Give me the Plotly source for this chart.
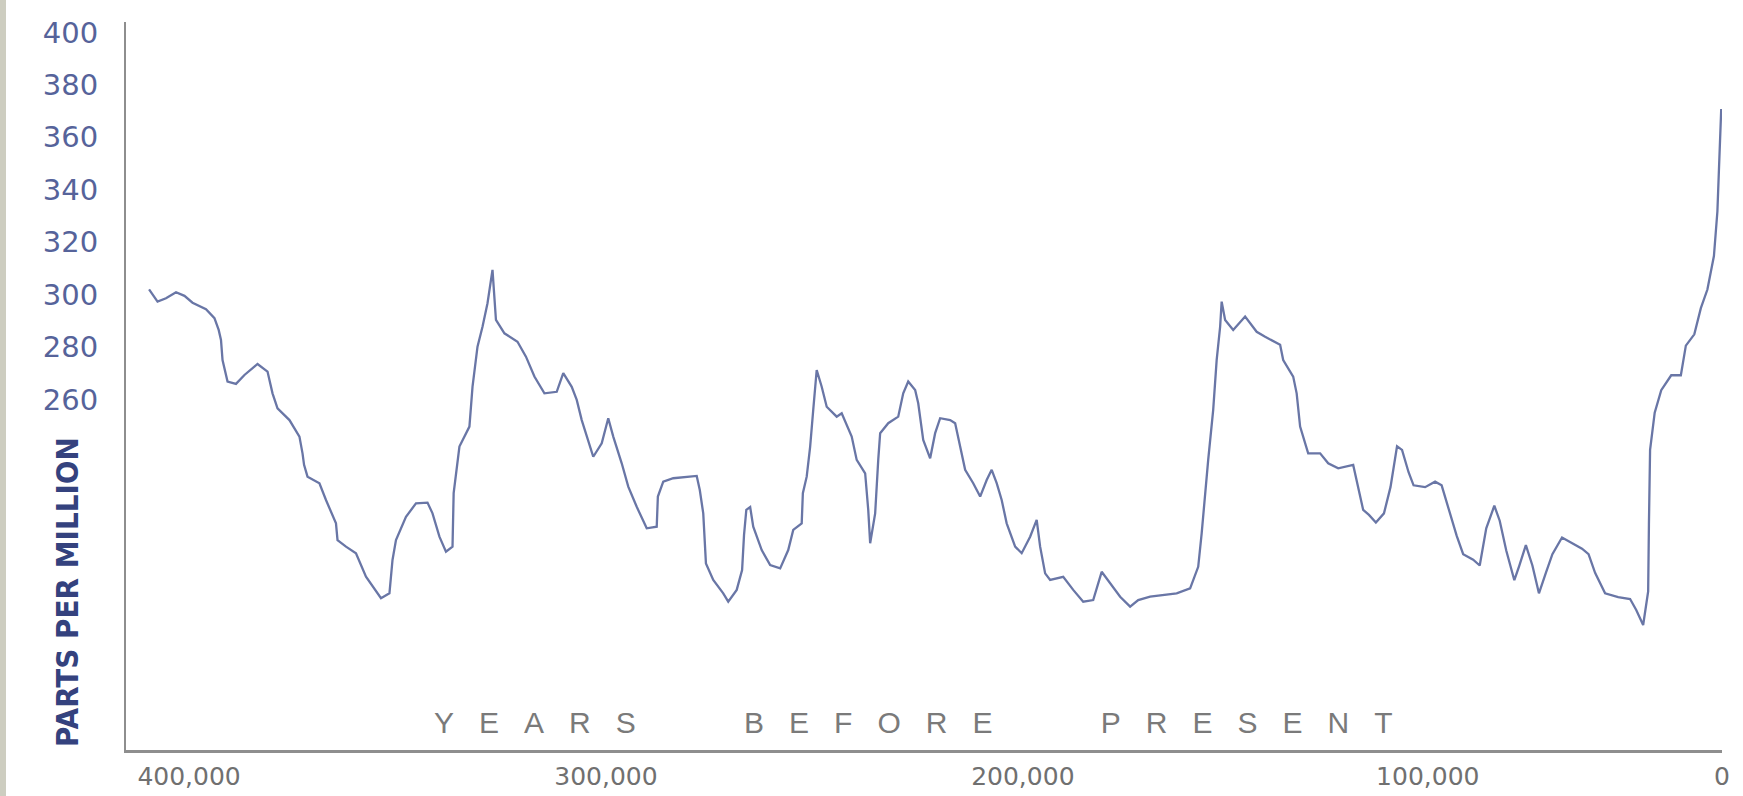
import plotly.graph_objects as go

# Atmospheric CO2 over the last ~400,000 years (years before present, ppm)
YEARS_BP = [
    409000, 406800, 404600, 402000, 399800, 397700, 394200, 392000, 390900, 390300,
    389900, 388600, 386400, 384200, 380800, 378200, 376900, 375600, 372500, 369900,
    369100, 368700, 367800, 364700, 363000, 360400, 360000, 357800, 355200, 352600,
    348700, 346500, 345700, 344800, 342200, 339600, 336600, 335300, 333500, 331800,
    330100, 329800, 328300, 325700, 324900, 323600, 322300, 321000, 319700, 319200,
    318800, 316600, 313200, 311000, 308800, 306200, 303000, 301300, 299100, 297800,
    296500, 293500, 291300, 289600, 288300, 286100, 284400, 282200, 279600, 277000,
    276700, 275300, 272700, 266600, 265800, 264900, 264500, 264200, 262300, 259700,
    258400, 256200, 254800, 254300, 253700, 252700, 251900, 249700, 247500, 244900,
    242800, 241500, 239300, 239000, 238000, 237100, 236300, 235400, 234100, 232800,
    230200, 228900, 226300, 225000, 222800, 222000, 221500, 220200, 219400, 218900,
    216800, 214200, 212900, 211600, 209800, 209000, 207700, 205900, 204600, 203300,
    200700, 199400, 198100, 196800, 194700, 192900, 191200, 189900, 188600, 187300,
    186000, 183800, 182100, 179900, 178200, 177300, 176000, 174700, 171300, 168700,
    166100, 163500, 161300, 159100, 156500, 153900, 151800, 148700, 145300, 141800,
    138300, 136200, 135300, 134400, 133600, 132300, 131400, 130500, 130100, 129200,
    127100, 124000, 121000, 118800, 114900, 114100, 111500, 110600, 109700, 107600,
    104500, 102400, 99800, 95900, 94600, 93300, 91800, 90000, 87900, 86200,
    84500, 83200, 81500, 80200, 77200, 74600, 72900, 70800, 69000, 67300,
    64700, 63000, 61300, 59200, 57800, 56100, 54000, 52700, 51000, 49300,
    47600, 45800, 44100, 41600, 39800, 36400, 34700, 33000, 30400, 27000,
    23900, 22300, 20500, 19200, 19000, 18700, 17500, 15800, 13200, 10700,
    9400, 7200, 5500, 3800, 2100, 1200, 800, 500, 200,
]
CO2_PPM = [
    302.0, 297.3, 298.6, 300.9, 299.5, 296.9, 294.4, 291.0, 286.5, 282.7,
    275.0, 266.8, 265.9, 269.3, 273.5, 270.6, 262.3, 256.6, 252.1, 245.8,
    239.4, 235.0, 230.5, 228.0, 221.6, 212.7, 206.3, 203.8, 201.3, 192.3,
    184.1, 186.0, 198.7, 206.3, 215.2, 220.3, 220.6, 216.5, 207.6, 201.9,
    203.8, 224.2, 242.0, 249.6, 264.8, 280.1, 287.7, 296.7, 309.4, 300.5,
    290.3, 285.2, 282.0, 276.3, 268.7, 262.3, 262.9, 270.0, 264.8, 259.8,
    252.1, 238.1, 243.2, 252.8, 245.8, 235.6, 226.7, 219.0, 210.8, 211.4,
    222.9, 228.6, 229.9, 230.8, 225.4, 216.5, 206.3, 197.4, 191.1, 186.0,
    182.8, 187.3, 194.9, 208.2, 217.8, 218.9, 211.4, 202.5, 196.8, 195.5,
    202.5, 210.2, 212.7, 224.2, 230.5, 242.0, 256.0, 271.2, 264.8, 257.2,
    253.4, 254.7, 245.8, 236.9, 231.8, 217.8, 205.1, 216.5, 236.9, 247.1,
    250.9, 253.4, 262.3, 266.8, 263.6, 258.5, 244.5, 237.5, 247.1, 252.8,
    252.1, 250.9, 242.0, 233.1, 228.0, 222.9, 229.2, 233.1, 228.0, 221.6,
    212.7, 203.8, 201.3, 207.6, 214.0, 203.8, 193.6, 191.1, 192.3, 187.3,
    182.8, 183.4, 194.2, 189.8, 184.7, 180.9, 183.4, 184.7, 185.3, 186.0,
    187.9, 196.1, 208.9, 224.2, 236.9, 256.0, 275.0, 287.7, 297.3, 290.3,
    286.5, 291.6, 285.8, 283.9, 280.8, 275.0, 268.7, 262.3, 249.6, 239.4,
    239.4, 235.6, 233.7, 235.0, 226.7, 217.8, 215.9, 213.0, 216.5, 226.5,
    242.1, 240.7, 232.2, 227.2, 226.5, 228.6, 227.2, 216.5, 208.0, 200.9,
    198.8, 196.6, 210.8, 219.4, 213.7, 202.3, 191.0, 196.6, 204.4, 196.6,
    186.0, 193.8, 200.9, 207.3, 205.9, 203.0, 200.9, 193.8, 186.0, 184.5,
    183.8, 179.6, 173.9, 186.7, 212.3, 240.7, 254.9, 263.5, 269.2, 269.2,
    280.5, 284.8, 294.8, 301.9, 314.7, 331.7, 347.4, 362.0, 370.8,
]

Y_TICKS = [260, 280, 300, 320, 340, 360, 380, 400]
X_TICK_TEXT = ["400,000", "300,000", "200,000", "100,000", "0"]
X_TICK_AT = [398600, 290200, 181800, 76500, 0]

X_TITLE = "YEARS BEFORE PRESENT"
Y_TITLE = "PARTS PER MILLION"

W, H = 1743, 796
L, R, T, B = 126, 21, 22, 46
PW, PH = W - L - R, H - T - B


def spaced(text, inner=3, between=13):
    nb = "\u00a0"
    words = text.split(" ")
    return (nb * between).join((nb * inner).join(w) for w in words)


fig = go.Figure(
    go.Scatter(
        x=YEARS_BP,
        y=CO2_PPM,
        mode="lines",
        line=dict(color="#6976a6", width=2.3),
        hoverinfo="skip",
    )
)

fig.update_layout(
    width=W,
    height=H,
    margin=dict(l=L, r=R, t=T, b=B, pad=0, autoexpand=False),
    paper_bgcolor="#ffffff",
    plot_bgcolor="#ffffff",
    showlegend=False,
    font=dict(family="DejaVu Sans, Liberation Sans, sans-serif"),
)

fig.update_xaxes(
    range=[415000, 0],
    automargin=False,
    showgrid=False,
    zeroline=False,
    showline=True,
    linecolor="#8e8e8e",
    linewidth=2.6,
    ticks="",
    tickmode="array",
    tickvals=X_TICK_AT,
    ticktext=X_TICK_TEXT,
    tickfont=dict(family="DejaVu Sans, sans-serif", size=25, color="#707070"),
    ticklabelstandoff=2,
)

fig.update_yaxes(
    range=[126.2, 404],
    automargin=False,
    showgrid=False,
    zeroline=False,
    showline=True,
    linecolor="#8e8e8e",
    linewidth=2,
    ticks="",
    tickmode="array",
    tickvals=Y_TICKS,
    ticktext=[str(v) for v in Y_TICKS],
    tickfont=dict(family="DejaVu Sans, sans-serif", size=29, color="#56639a"),
    ticklabelstandoff=20,
)

# narrow grey strip down the left edge of the page
fig.add_shape(
    type="rect",
    xref="paper", yref="paper",
    x0=(0 - L) / PW, x1=(6 - L) / PW,
    y0=-B / PH, y1=1 + T / PH,
    fillcolor="#cdcdc0",
    line=dict(width=0),
    layer="below",
)

fig.add_annotation(
    text=Y_TITLE,
    xref="paper", yref="paper",
    x=(67 - L) / PW, y=(750 - 592) / PH,
    xanchor="center", yanchor="middle",
    textangle=-90,
    showarrow=False,
    font=dict(family="Liberation Sans Narrow, DejaVu Sans Condensed, sans-serif",
              size=31, color="#34427e", weight="bold"),
)

fig.add_annotation(
    text=spaced(X_TITLE),
    xref="paper", yref="paper",
    x=(913 - L) / PW, y=(750 - 722) / PH,
    xanchor="center", yanchor="middle",
    showarrow=False,
    font=dict(family="Liberation Sans, Arial, sans-serif", size=30, color="#7a7a7a"),
)

fig.write_html("out.html")
